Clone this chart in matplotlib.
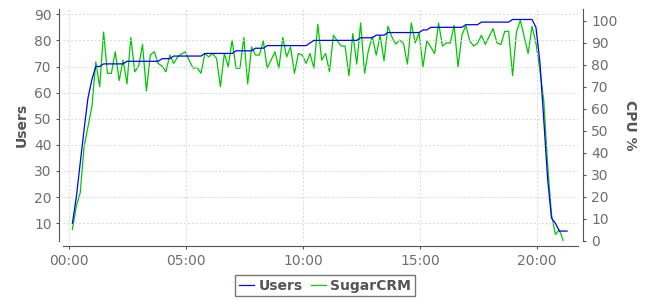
import numpy as np
import matplotlib
matplotlib.use("Agg")
import matplotlib.pyplot as plt
from matplotlib.ticker import FuncFormatter

# samples every 10 minutes, first one at 00:08
start_min = 8
step_min = 10

# Users (left axis)
users = [10, 20, 33, 46, 58, 65, 70, 70,
         71, 71, 71, 71, 71, 71,
         72, 72, 72, 72, 72, 72, 72, 72, 72,
         73, 73, 73,
         74, 74, 74, 74, 74, 74, 74, 74,
         75, 75, 75, 75, 75, 75, 75, 75,
         76, 76, 76, 76, 76,
         77, 77, 77,
         78, 78, 78, 78, 78, 78, 78, 78, 78, 78, 78,
         79,
         80, 80, 80, 80, 80, 80, 80, 80, 80, 80, 80, 80,
         81, 81, 81, 81,
         82, 82, 82,
         83, 83, 83, 83, 83, 83, 83, 83, 83,
         84, 84,
         85, 85, 85, 85, 85, 85, 85, 85, 85,
         86, 86, 86, 86,
         87, 87, 87, 87, 87, 87, 87, 87,
         88, 88, 88, 88, 88, 88,
         85, 72, 50, 27, 12, 10, 7, 7, 7]

# SugarCRM CPU % (right axis)
cpu = [5.3, 15.8, 21.9, 43.0, 52.0, 61.0, 81.4, 70.1, 95.0, 76.2,
       76.2, 86.0, 72.9, 82.2, 71.4, 92.5, 76.9, 79.5, 89.3, 68.2,
       84.5, 86.0, 80.7, 79.5, 76.9, 84.5, 80.7, 83.7, 85.0, 86.0,
       82.0, 78.5, 78.9, 76.2, 85.2, 83.7, 85.2, 83.0, 70.1, 85.2,
       79.2, 91.3, 78.5, 78.5, 92.5, 71.4, 88.2, 84.5, 84.5, 91.0,
       78.5, 82.2, 86.0, 78.5, 92.5, 83.7, 88.2, 76.2, 85.2, 84.5,
       80.7, 85.2, 78.5, 98.5, 82.2, 85.2, 76.9, 93.5, 91.0, 88.6,
       88.6, 75.1, 94.3, 80.4, 99.1, 76.2, 86.7, 92.8, 84.5, 93.5,
       81.9, 97.6, 92.8, 89.5, 91.3, 89.8, 80.4, 99.1, 90.0, 94.6,
       79.2, 91.0, 88.2, 85.2, 99.1, 88.6, 90.0, 90.0, 98.0, 79.2,
       93.5, 98.0, 91.0, 88.6, 89.8, 93.5, 89.3, 93.0, 96.5, 90.0,
       89.3, 95.3, 95.3, 75.1, 95.0, 100.3, 92.8, 85.2, 97.6, 90.0,
       78.0, 64.0, 35.0, 12.0, 3.0, 5.0, 0.3]

x_ticks = [0, 5, 10, 15, 20]

times = (start_min + step_min * np.arange(len(users))) / 60.0
cpu_times = times[:len(cpu)]

grey = "#555555"
txt = "#6e6e6e"

fig = plt.figure(figsize=(6.5, 3.0), dpi=100)
ax = fig.add_axes([63.3 / 650, 1 - 241 / 300, 515 / 650, (241 - 9.3) / 300])
ax2 = ax.twinx()

# users line on top of the cpu line
ax.set_zorder(ax2.get_zorder() + 1)
ax.patch.set_visible(False)
ax2.patch.set_facecolor("white")
ax2.patch.set_edgecolor("#b8b8b8")
ax2.patch.set_linewidth(1.0)

l2, = ax2.plot(cpu_times, cpu, color="#00c800", lw=0.9, label="SugarCRM")
l1, = ax.plot(times, users, color="#0000ff", lw=0.9, label="Users")

ax.set_xlim(-0.257, 21.78)
ax.set_ylim(3.2, 91.9)
ax2.set_ylim(0, 105.3)

ax.set_xticks(x_ticks)
ax.xaxis.set_major_formatter(FuncFormatter(lambda v, p: "%02d:%02d" % (int(v), int(round((v % 1) * 60)))))
ax.set_yticks(range(10, 91, 10))
ax2.set_yticks(range(0, 101, 10))

ax.grid(True, color="#d8d8d8", linestyle=(0, (2, 2)), linewidth=0.7)

for a in (ax, ax2):
    for s in a.spines.values():
        s.set_visible(False)
    a.tick_params(colors=grey, labelcolor=txt, labelsize=10, length=2, width=0.8)

ax.spines["left"].set_visible(True)
ax.spines["left"].set_position(("outward", 3.4))
ax.spines["left"].set_color(grey)
ax.spines["bottom"].set_visible(True)
ax.spines["bottom"].set_position(("outward", 3.6))
ax.spines["bottom"].set_color(grey)
ax2.spines["right"].set_visible(True)
ax2.spines["right"].set_position(("outward", 3.2))
ax2.spines["right"].set_color(grey)

ax.tick_params(axis="y", pad=3)
ax.tick_params(axis="x", pad=4)
ax2.tick_params(axis="y", pad=4)

ax.set_ylabel("Users", fontsize=10, fontweight="bold", color=grey, va="center")
ax.yaxis.set_label_coords((21.7 - 63.3) / 515, 0.5)
ax2.set_ylabel("CPU %", fontsize=10, fontweight="bold", color=grey, rotation=270, va="center")
ax2.yaxis.set_label_coords(1.100, 0.5)

leg = fig.legend([l1, l2], ["Users", "SugarCRM"], loc="center", bbox_to_anchor=(325 / 650, 1 - 285.8 / 300),
                 ncol=2, frameon=True, fancybox=False, shadow=False, handlelength=1.1,
                 handletextpad=0.3, columnspacing=0.6, borderpad=0.25, borderaxespad=0,
                 prop={"size": 10, "weight": "bold"})
leg.get_frame().set_edgecolor(grey)
leg.get_frame().set_linewidth(1.0)
for t in leg.get_texts():
    t.set_color(grey)

fig.savefig("out.png", dpi=100)
